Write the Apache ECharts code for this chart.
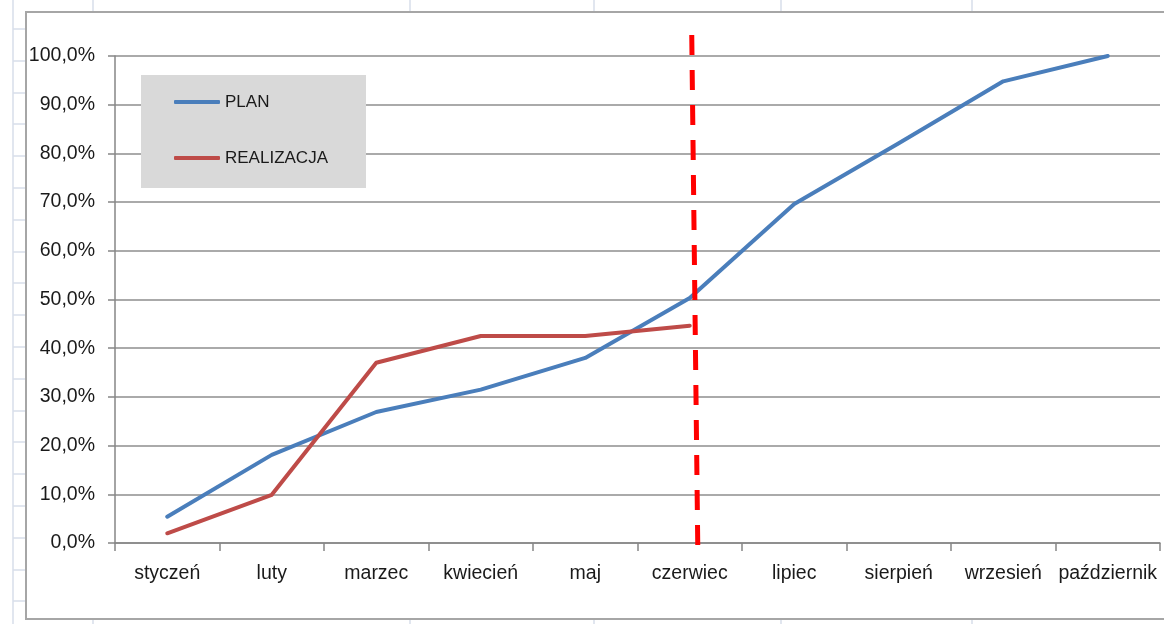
<!DOCTYPE html>
<html>
<head>
<meta charset="utf-8">
<style>
  html, body { margin: 0; padding: 0; background: #ffffff; }
  #chart { width: 1164px; height: 624px; }
</style>
<script src="https://cdn.jsdelivr.net/npm/echarts@6/dist/echarts.min.js"></script>
</head>
<body>
<div id="chart"></div>
<script>
// Months of the schedule
const months = ['styczeń', 'luty', 'marzec', 'kwiecień', 'maj', 'czerwiec', 'lipiec', 'sierpień', 'wrzesień', 'październik'];
// Cumulative plan, % of total
const planPct = [5.4, 18.1, 26.9, 31.5, 38.0, 50.3, 69.6, 82.1, 94.8, 100.0];
// Cumulative realisation so far, % of total
const realizacjaPct = [2.0, 9.9, 37.0, 42.5, 42.5, 44.6];
// Series names
const seriesNames = ['PLAN', 'REALIZACJA'];
// Value axis range and step, %
const yMin = 0, yMax = 100, yStep = 10;
// Month marked with the "today" line
const cutoffMonth = 'czerwiec';

const FONT = 'Liberation Sans';
const TEXT = '#1a1a1a';
const AXIS = '#868686';
const SHEET = '#d7deea';

const chart = echarts.init(document.getElementById('chart'), null, { renderer: 'canvas' });

function pctLabel(v) {
  return v.toFixed(1).replace('.', ',') + '%';
}

// Spreadsheet cell lines around the embedded chart frame
function sheetLines() {
  const els = [];
  const line = (x1, y1, x2, y2) => els.push({
    type: 'line', silent: true,
    shape: { x1, y1, x2, y2 },
    style: { stroke: SHEET, lineWidth: 1.5 }
  });
  line(13, 0, 13, 624);
  for (let y = 29; y < 624; y += 31.8) line(13, Math.round(y), 26, Math.round(y));
  [93, 410, 594, 781, 972].forEach(x => { line(x, 0, x, 12); line(x, 620, x, 624); });
  return els;
}

chart.setOption({
  animation: false,
  backgroundColor: '#ffffff',
  textStyle: { fontFamily: FONT },
  grid: { left: 115, right: 4, top: 56, bottom: 81, containLabel: false },
  legend: {
    orient: 'vertical',
    left: 174,
    top: 92,
    padding: 0,
    itemGap: 36,
    itemWidth: 46,
    itemHeight: 4,
    icon: 'roundRect',
    z: 5,
    data: seriesNames,
    textStyle: { fontFamily: FONT, fontSize: 17, color: TEXT, lineHeight: 20 }
  },
  xAxis: {
    type: 'category',
    data: months,
    boundaryGap: true,
    axisLine: { show: true, lineStyle: { color: AXIS, width: 1.5 } },
    axisTick: { show: true, length: 8, lineStyle: { color: AXIS, width: 1.5 } },
    axisLabel: { margin: 21, fontFamily: FONT, fontSize: 19.5, color: TEXT, interval: 0 },
    splitLine: { show: false }
  },
  yAxis: {
    type: 'value',
    min: yMin,
    max: yMax,
    interval: yStep,
    axisLine: { show: true, lineStyle: { color: AXIS, width: 1.5 } },
    axisTick: { show: true, length: 7, lineStyle: { color: AXIS, width: 1.5 } },
    axisLabel: { margin: 20, fontFamily: FONT, fontSize: 19.5, color: TEXT, formatter: pctLabel },
    splitLine: { show: true, lineStyle: { color: '#8e8e8e', width: 1.5 } }
  },
  series: [
    {
      name: seriesNames[0],
      type: 'line',
      data: planPct,
      symbol: 'none',
      color: '#4a7ebb',
      lineStyle: { width: 4, color: '#4a7ebb', cap: 'round', join: 'round' },
      z: 3
    },
    {
      name: seriesNames[1],
      type: 'line',
      data: realizacjaPct,
      symbol: 'none',
      color: '#be4b48',
      lineStyle: { width: 4, color: '#be4b48', cap: 'round', join: 'round' },
      z: 3
    }
  ]
});

// Frame, legend panel and the dashed cutoff line
const cx = chart.convertToPixel({ xAxisIndex: 0 }, cutoffMonth);
chart.setOption({
  graphic: sheetLines().concat([
    {
      type: 'rect', silent: true, z: 1,
      shape: { x: 26, y: 12, width: 1150, height: 607 },
      style: { fill: null, stroke: '#a6a6a6', lineWidth: 2 }
    },
    {
      type: 'rect', silent: true, z: 4,
      shape: { x: 141, y: 75, width: 225, height: 113 },
      style: { fill: '#d9d9d9' }
    },
    {
      type: 'line', silent: true, z: 10,
      shape: { x1: cx + 2, y1: 35, x2: cx + 8, y2: 545 },
      style: { stroke: '#ff0000', lineWidth: 5, lineDash: [20, 15] }
    }
  ])
});
</script>
</body>
</html>
